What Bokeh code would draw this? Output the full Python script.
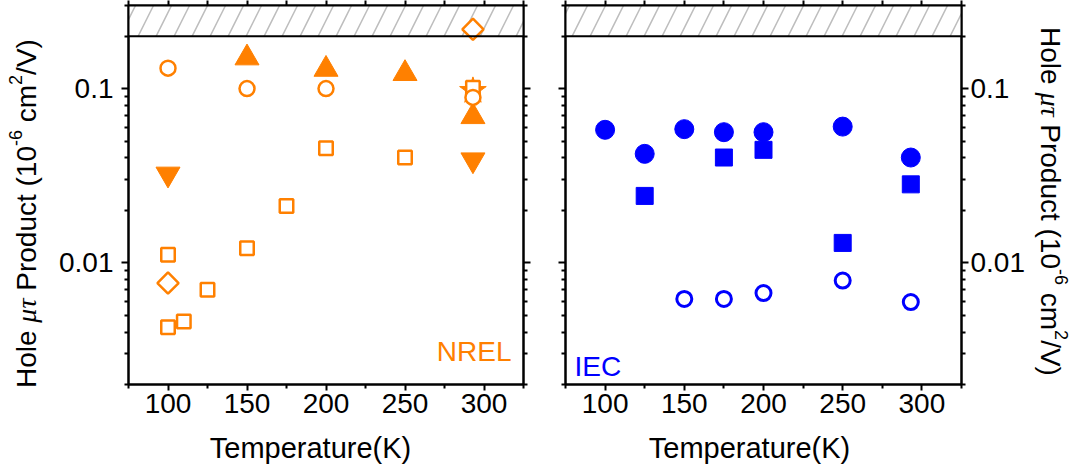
import numpy as np
from bokeh.plotting import figure
from bokeh.models import FixedTicker, LinearAxis, LogAxis, Label, Span, Div
from bokeh.layouts import row, column
from bokeh.embed import file_html
from bokeh.resources import INLINE
from bokeh.core.properties import value

# ---------------- data ----------------
# temperature axis
temp_ticks = [100, 150, 200, 250, 300]
temp_minor = [75, 125, 175, 225, 275, 325]
temp_range = (75, 325)

# hole mu-tau product axis (log scale, 10^-6 cm^2/V)
mt_ticks = [0.01, 0.1]
mt_tick_labels = ["0.01", "0.1"]
mt_range = (0.002, 0.3)

# range above the measurable limit (hatched band)
limit_low = 0.2
limit_high = 0.3

# NREL samples
nrel_sq_T = [100, 100, 110, 125, 150, 175, 200, 250, 293]
nrel_sq_v = [0.0111, 0.00426, 0.0046, 0.0070, 0.0121, 0.0212, 0.0455, 0.0402, 0.101]
nrel_ci_T = [100, 150, 200, 293]
nrel_ci_v = [0.131, 0.100, 0.100, 0.089]
nrel_up_T = [150, 200, 250, 293]
nrel_up_v = [0.150, 0.129, 0.122, 0.069]
nrel_dn_T = [100, 293]
nrel_dn_v = [0.0323, 0.039]
nrel_di_T = [100, 293]
nrel_di_v = [0.00765, 0.219]
nrel_st_T = [293]
nrel_st_v = [0.097]

# IEC samples
iec_ci_T = [100, 125, 150, 175, 200, 250, 293]
iec_ci_v = [0.058, 0.0422, 0.0585, 0.0562, 0.0562, 0.0605, 0.0402]
iec_sq_T = [125, 175, 200, 250, 293]
iec_sq_v = [0.0242, 0.0402, 0.0445, 0.0130, 0.0282]
iec_oc_T = [150, 175, 200, 250, 293]
iec_oc_v = [0.0062, 0.0062, 0.0067, 0.0079, 0.00595]

x_title = "Temperature(K)"
y_title_html = ('Hole <span style="font-family:\'Liberation Serif\';font-style:italic">μτ</span>'
                ' Product (10<span style="font-size:18px;position:relative;top:-14px">-6</span>'
                ' cm<span style="font-size:18px;position:relative;top:-14px">2</span>/V)')

ORANGE = "#FF8000"
BLUE = "#0000FF"
SANS = "Liberation Sans"
FS = 28          # font size (px)

# page layout (px)
TOP_H = 427      # height of the row holding the two panels
BOT_H = 42       # strip below holding the x titles
TL_W = 56        # strip left of the NREL panel (y title)
P1_W = 71 + 396 + 21
P2_W = 21 + 396 + 68
TR_W = 1075 - TL_W - P1_W - P2_W

mt_minor = sorted({round(m * 10.0 ** e, 6) for e in (-3, -2, -1) for m in range(1, 10)
                   if mt_range[0] - 1e-9 <= m * 10.0 ** e <= mt_range[1] + 1e-9} - set(mt_ticks))


def style_axis(ax, show_labels, standoff=0, tick_out=7, minor_out=4):
    ax.axis_line_width = 2
    ax.axis_line_color = "black"
    ax.major_tick_line_width = 2
    ax.minor_tick_line_width = 2
    ax.major_tick_line_color = "black"
    ax.minor_tick_line_color = "black"
    ax.major_tick_in = 0
    ax.minor_tick_in = 0
    ax.major_tick_out = tick_out
    ax.minor_tick_out = minor_out
    ax.major_label_standoff = standoff
    ax.major_label_text_font = SANS
    if show_labels:
        ax.major_label_text_font_size = f"{FS}px"
        ax.major_label_text_color = "black"
    else:
        # tick marks only
        ax.major_label_text_font_size = "1px"
        ax.major_label_text_color = None


def y_title_div(width, left, top, rotation):
    """Rotated y-axis title (HTML text) with italic greek and superscripts."""
    inner = (f'<div style="position:relative;left:{left}px;top:{top}px;width:max-content;'
             f'transform-origin:0 0;transform:rotate({rotation}deg);white-space:nowrap;'
             f'font-family:\'{SANS}\';font-size:{FS}px;line-height:{FS}px;color:black;">'
             f'{y_title_html}</div>')
    return Div(text=inner, width=width, height=TOP_H, margin=0,
               styles={"overflow": "visible", "padding": "0", "margin": "0"})


def build_panel(width, border_left, border_right, labelled_side):
    p = figure(width=width, height=TOP_H, x_range=temp_range, y_range=mt_range,
               y_axis_type="log", y_axis_location=labelled_side,
               output_backend="svg", toolbar_location=None,
               min_border_left=border_left, min_border_right=border_right,
               min_border_top=5, min_border_bottom=TOP_H - 384)
    p.xgrid.visible = False
    p.ygrid.visible = False
    p.outline_line_color = "black"
    p.outline_line_width = 2
    p.background_fill_color = "white"
    p.border_fill_color = "white"

    xt = FixedTicker(ticks=temp_ticks, minor_ticks=temp_minor)
    yt = FixedTicker(ticks=mt_ticks, minor_ticks=mt_minor)
    p.xaxis.ticker = xt
    p.yaxis.ticker = yt
    p.yaxis.major_label_overrides = dict(zip(mt_ticks, mt_tick_labels))
    style_axis(p.xaxis[0], True, standoff=3, tick_out=6)
    style_axis(p.yaxis[0], True, standoff=8 if labelled_side == "left" else 2)

    other = LogAxis(ticker=yt)
    style_axis(other, False)
    p.add_layout(other, "right" if labelled_side == "left" else "left")
    top = LinearAxis(ticker=xt)
    style_axis(top, False, tick_out=5, minor_out=5)
    p.add_layout(top, "above")

    # hatched band above the limit
    p.quad(left=[temp_range[0]], right=[temp_range[1]], bottom=[limit_low], top=[limit_high],
           fill_color="white", line_color=None, hatch_pattern="/",
           hatch_color="#bdbdbd", hatch_weight=1.5, hatch_scale=36)
    p.add_layout(Span(location=limit_low, dimension="width", line_color="black", line_width=2))
    return p


# ---------------- NREL panel ----------------
p1 = build_panel(P1_W, 71, 21, "left")
p1.scatter(nrel_st_T, nrel_st_v, marker="star", size=28, fill_color=ORANGE, line_color=ORANGE)
p1.scatter(nrel_up_T, nrel_up_v, marker="triangle", size=24, fill_color=ORANGE, line_color=ORANGE)
p1.scatter(nrel_dn_T, nrel_dn_v, marker="inverted_triangle", size=24, fill_color=ORANGE, line_color=ORANGE)
p1.scatter(nrel_sq_T, nrel_sq_v, marker="square", size=13.5, fill_color="white",
           line_color=ORANGE, line_width=2.5)
p1.scatter(nrel_ci_T, nrel_ci_v, marker="circle", size=15, fill_color="white",
           line_color=ORANGE, line_width=2.5)
p1.scatter(nrel_di_T, nrel_di_v, marker="square", angle=np.pi / 4, size=15, fill_color="white",
           line_color=ORANGE, line_width=2.5)
p1.add_layout(Label(x=383, y=33, x_units="screen", y_units="screen", text="NREL",
                    text_font=SANS, text_font_size=f"{FS}px", text_color=ORANGE,
                    text_align="right", text_baseline="alphabetic"))

# ---------------- IEC panel ----------------
p2 = build_panel(P2_W, 21, 68, "right")
p2.scatter(iec_ci_T, iec_ci_v, marker="circle", size=19, fill_color=BLUE, line_color=BLUE)
p2.scatter(iec_sq_T, iec_sq_v, marker="square", size=17, fill_color=BLUE, line_color=BLUE)
p2.scatter(iec_oc_T, iec_oc_v, marker="circle", size=15, fill_color="white",
           line_color=BLUE, line_width=3)
p2.add_layout(Label(x=9, y=18, x_units="screen", y_units="screen", text="IEC",
                    text_font=SANS, text_font_size=f"{FS}px", text_color=BLUE,
                    text_align="left", text_baseline="alphabetic"))

# ---------------- titles ----------------
tl = y_title_div(TL_W, 13, 388, -90)
tr = y_title_div(TR_W, 35, 27, 90)

bottom = figure(width=1075, height=BOT_H, x_range=(0, 1075), y_range=(0, BOT_H),
                x_axis_type=None, y_axis_type=None, output_backend="svg",
                toolbar_location=None, min_border=0)
bottom.outline_line_color = None
bottom.xgrid.visible = False
bottom.ygrid.visible = False
bottom.text(x=[310, 749], y=[22, 22], text=[x_title, x_title],
            text_font=value(SANS), text_font_size=value("29px"), text_color="black",
            text_align="center", text_baseline="alphabetic")

layout = column(row(tl, p1, p2, tr), bottom)
open("out.html", "w").write(file_html(layout, INLINE))
